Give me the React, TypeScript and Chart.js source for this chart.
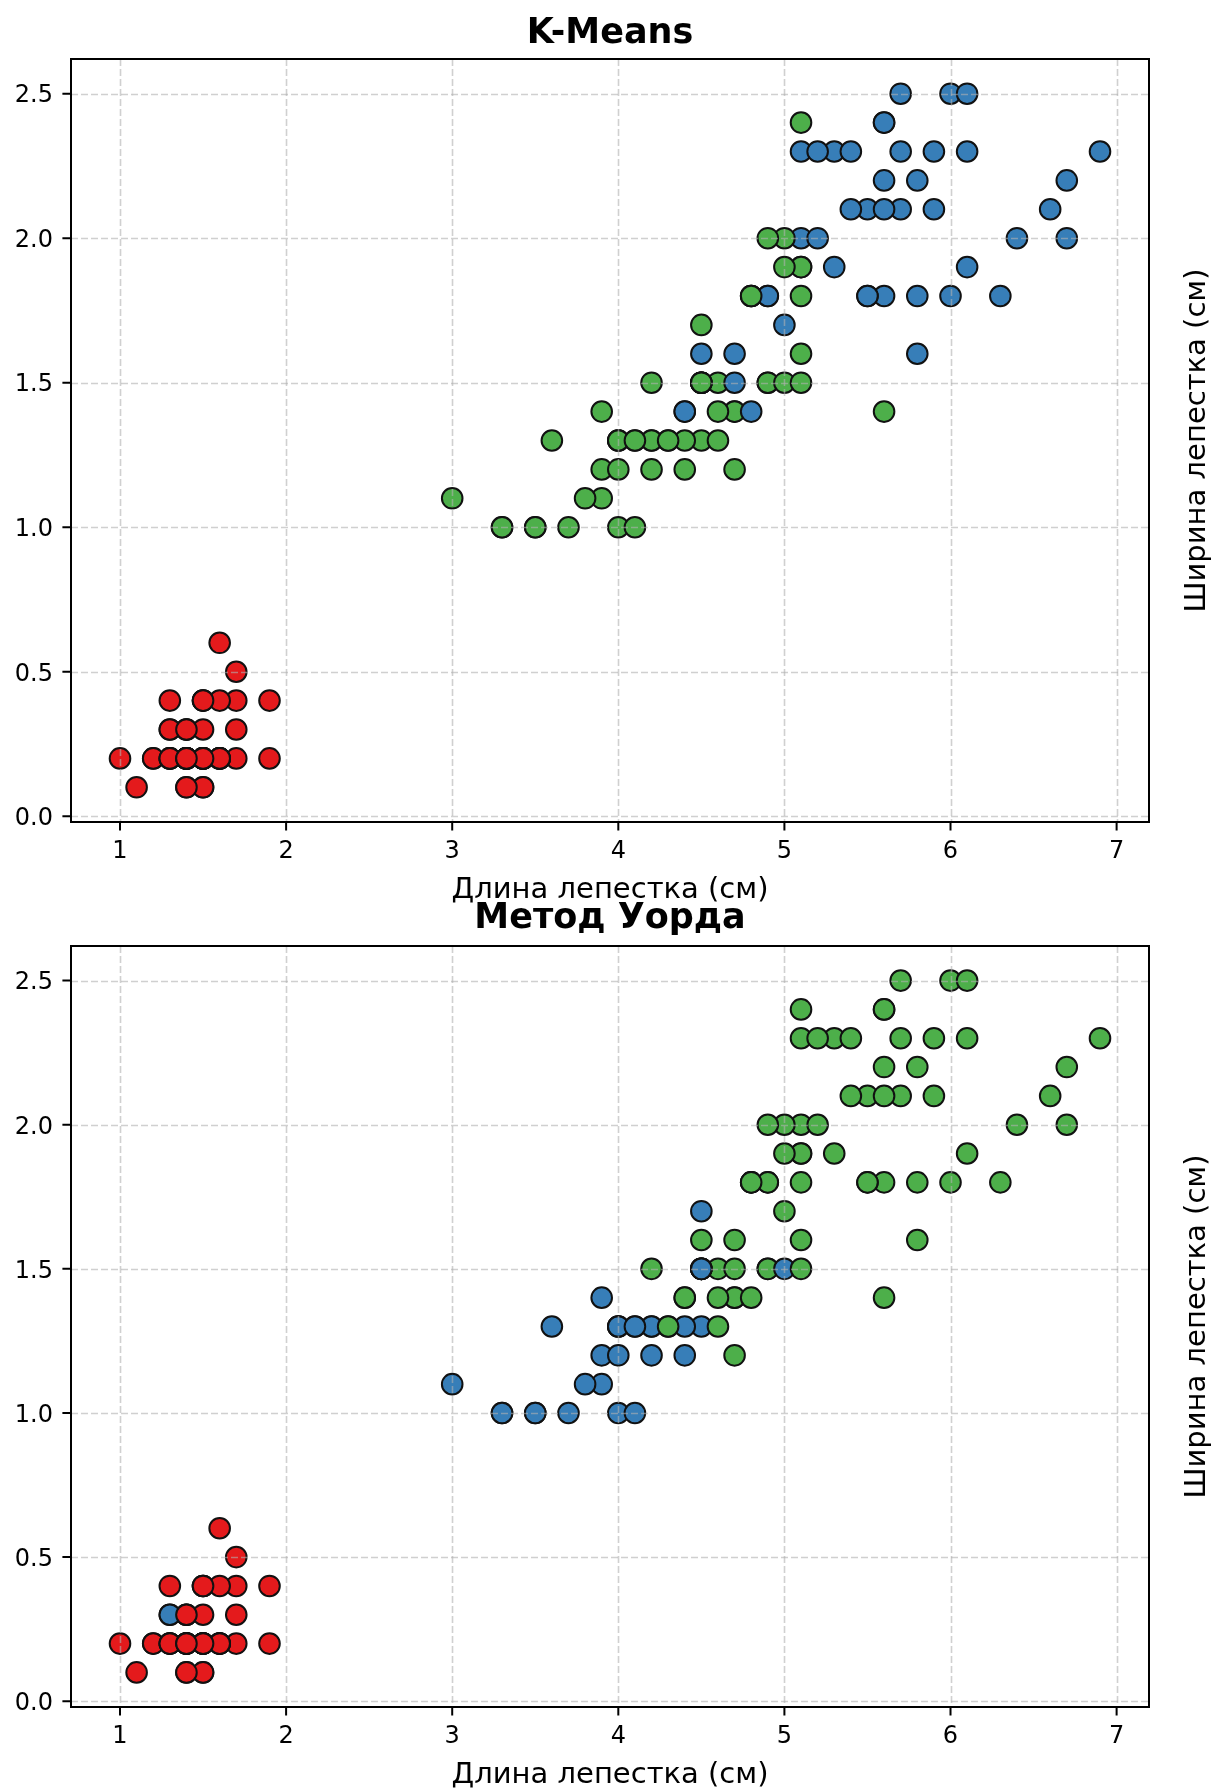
import React, { useEffect, useRef } from 'react';
import { Chart, registerables } from 'chart.js';

Chart.register(...registerables);

// Iris petal measurements (150 samples, original order)
const petalLength = [
  1.4, 1.4, 1.3, 1.5, 1.4, 1.7, 1.4, 1.5, 1.4, 1.5,
  1.5, 1.6, 1.4, 1.1, 1.2, 1.5, 1.3, 1.4, 1.7, 1.5,
  1.7, 1.5, 1.0, 1.7, 1.9, 1.6, 1.6, 1.5, 1.4, 1.6,
  1.6, 1.5, 1.5, 1.4, 1.5, 1.2, 1.3, 1.4, 1.3, 1.5,
  1.3, 1.3, 1.3, 1.6, 1.9, 1.4, 1.6, 1.4, 1.5, 1.4,
  4.7, 4.5, 4.9, 4.0, 4.6, 4.5, 4.7, 3.3, 4.6, 3.9,
  3.5, 4.2, 4.0, 4.7, 3.6, 4.4, 4.5, 4.1, 4.5, 3.9,
  4.8, 4.0, 4.9, 4.7, 4.3, 4.4, 4.8, 5.0, 4.5, 3.5,
  3.8, 3.7, 3.9, 5.1, 4.5, 4.5, 4.7, 4.4, 4.1, 4.0,
  4.4, 4.6, 4.0, 3.3, 4.2, 4.2, 4.2, 4.3, 3.0, 4.1,
  6.0, 5.1, 5.9, 5.6, 5.8, 6.6, 4.5, 6.3, 5.8, 6.1,
  5.1, 5.3, 5.5, 5.0, 5.1, 5.3, 5.5, 6.7, 6.9, 5.0,
  5.7, 4.9, 6.7, 4.9, 5.7, 6.0, 4.8, 4.9, 5.6, 5.8,
  6.1, 6.4, 5.6, 5.1, 5.6, 6.1, 5.6, 5.5, 4.8, 5.4,
  5.6, 5.1, 5.1, 5.9, 5.7, 5.2, 5.0, 5.2, 5.4, 5.1,
];

const petalWidth = [
  0.2, 0.2, 0.2, 0.2, 0.2, 0.4, 0.3, 0.2, 0.2, 0.1,
  0.2, 0.2, 0.1, 0.1, 0.2, 0.4, 0.4, 0.3, 0.3, 0.3,
  0.2, 0.4, 0.2, 0.5, 0.2, 0.2, 0.4, 0.2, 0.2, 0.2,
  0.2, 0.4, 0.1, 0.2, 0.2, 0.2, 0.2, 0.1, 0.2, 0.2,
  0.3, 0.3, 0.2, 0.6, 0.4, 0.3, 0.2, 0.2, 0.2, 0.2,
  1.4, 1.5, 1.5, 1.3, 1.5, 1.3, 1.6, 1.0, 1.3, 1.4,
  1.0, 1.5, 1.0, 1.4, 1.3, 1.4, 1.5, 1.0, 1.5, 1.1,
  1.8, 1.3, 1.5, 1.2, 1.3, 1.4, 1.4, 1.7, 1.5, 1.0,
  1.1, 1.0, 1.2, 1.6, 1.5, 1.6, 1.5, 1.3, 1.3, 1.3,
  1.2, 1.4, 1.2, 1.0, 1.3, 1.2, 1.3, 1.3, 1.1, 1.3,
  2.5, 1.9, 2.1, 1.8, 2.2, 2.1, 1.7, 1.8, 1.8, 2.5,
  2.0, 1.9, 2.1, 2.0, 2.4, 2.3, 1.8, 2.2, 2.3, 1.5,
  2.3, 2.0, 2.0, 1.8, 2.1, 1.8, 1.8, 1.8, 2.1, 1.6,
  1.9, 2.0, 2.2, 1.5, 1.4, 2.3, 2.4, 1.8, 1.8, 2.1,
  2.4, 2.3, 1.9, 2.3, 2.5, 2.3, 1.9, 2.0, 2.3, 1.8,
];

// 0 = red cluster, 1 = green cluster, 2 = blue cluster
const kmeansLabels = [
  0, 0, 0, 0, 0, 0, 0, 0, 0, 0,
  0, 0, 0, 0, 0, 0, 0, 0, 0, 0,
  0, 0, 0, 0, 0, 0, 0, 0, 0, 0,
  0, 0, 0, 0, 0, 0, 0, 0, 0, 0,
  0, 0, 0, 0, 0, 0, 0, 0, 0, 0,
  1, 1, 1, 1, 1, 1, 2, 1, 1, 1,
  1, 1, 1, 1, 1, 2, 1, 1, 1, 1,
  1, 1, 1, 1, 1, 2, 2, 2, 1, 1,
  1, 1, 1, 1, 1, 2, 2, 1, 1, 1,
  1, 1, 1, 1, 1, 1, 1, 1, 1, 1,
  2, 1, 2, 2, 2, 2, 1, 2, 2, 2,
  2, 2, 2, 1, 1, 2, 2, 2, 2, 1,
  2, 1, 2, 2, 2, 2, 1, 2, 2, 2,
  2, 2, 2, 1, 1, 2, 2, 2, 1, 2,
  2, 2, 1, 2, 2, 2, 1, 2, 2, 1,
];

const wardLabels = [
  0, 0, 0, 0, 0, 0, 0, 0, 0, 0,
  0, 0, 0, 0, 0, 0, 0, 0, 0, 0,
  0, 0, 0, 0, 0, 0, 0, 0, 0, 0,
  0, 0, 0, 0, 0, 0, 0, 0, 0, 0,
  0, 2, 0, 0, 0, 0, 0, 0, 0, 0,
  1, 2, 1, 2, 1, 2, 1, 2, 1, 2,
  2, 1, 2, 1, 2, 1, 2, 2, 2, 2,
  1, 2, 1, 1, 1, 1, 1, 1, 2, 2,
  2, 2, 2, 1, 2, 1, 1, 2, 2, 2,
  2, 1, 2, 2, 2, 2, 2, 1, 2, 2,
  1, 1, 1, 1, 1, 1, 2, 1, 1, 1,
  1, 1, 1, 1, 1, 1, 1, 1, 1, 2,
  1, 1, 1, 1, 1, 1, 1, 1, 1, 1,
  1, 1, 1, 1, 1, 1, 1, 1, 1, 1,
  1, 1, 1, 1, 1, 1, 1, 1, 1, 1,
];

const clusterColors = ['#e41a1c', '#4daf4a', '#377eb8'];
const xTicks = [1, 2, 3, 4, 5, 6, 7];
const yTicks = [0, 0.5, 1.0, 1.5, 2.0, 2.5];
const xRange = [0.705, 7.195];
const yRange = [-0.02, 2.62];
const xLabel = 'Длина лепестка (см)';
const yLabel = 'Ширина лепестка (см)';
const titles = ['K-Means', 'Метод Уорда'];

const W = 1219;
const FONT = '"DejaVu Sans", sans-serif';

const axesPlugin = {
  id: 'mplAxes',
  afterDatasetsDraw(chart: any, _args: any, opts: any) {
    const ctx: CanvasRenderingContext2D = chart.ctx;
    const { left, right, top, bottom } = chart.chartArea;
    const xs = chart.scales.x;
    const ys = chart.scales.y;
    ctx.save();
    // grid (drawn above points like matplotlib default)
    ctx.strokeStyle = 'rgba(176,176,176,0.6)';
    ctx.lineWidth = 1.6;
    ctx.setLineDash([7, 3]);
    xTicks.forEach((v) => {
      const px = Math.round(xs.getPixelForValue(v)) + 0.5;
      ctx.beginPath();
      ctx.moveTo(px, top);
      ctx.lineTo(px, bottom);
      ctx.stroke();
    });
    yTicks.forEach((v) => {
      const py = Math.round(ys.getPixelForValue(v)) + 0.5;
      ctx.beginPath();
      ctx.moveTo(left, py);
      ctx.lineTo(right, py);
      ctx.stroke();
    });
    ctx.setLineDash([]);
    // spines
    ctx.strokeStyle = '#000';
    ctx.lineWidth = 2;
    ctx.strokeRect(left, top, right - left, bottom - top);
    // ticks
    const tl = 8.6;
    ctx.beginPath();
    xTicks.forEach((v) => {
      const px = xs.getPixelForValue(v);
      ctx.moveTo(px, bottom);
      ctx.lineTo(px, bottom + tl);
    });
    yTicks.forEach((v) => {
      const py = ys.getPixelForValue(v);
      ctx.moveTo(left, py);
      ctx.lineTo(left - tl, py);
    });
    ctx.stroke();
    // tick labels
    ctx.fillStyle = '#000';
    ctx.font = `24px ${FONT}`;
    ctx.textAlign = 'center';
    ctx.textBaseline = 'alphabetic';
    xTicks.forEach((v) => {
      ctx.fillText(String(v), xs.getPixelForValue(v), bottom + 36);
    });
    ctx.textAlign = 'right';
    yTicks.forEach((v) => {
      ctx.fillText(v.toFixed(1), left - 18, ys.getPixelForValue(v) + 8.8);
    });
    // axis labels
    ctx.font = `29px ${FONT}`;
    ctx.textAlign = 'center';
    ctx.fillText(xLabel, (left + right) / 2, bottom + 76);
    ctx.save();
    ctx.translate(1205, (top + bottom) / 2);
    ctx.rotate(-Math.PI / 2);
    ctx.fillText(yLabel, 0, 0);
    ctx.restore();
    // title
    ctx.font = `bold 35px ${FONT}`;
    ctx.fillText(opts.text, (left + right) / 2, top - opts.titleGap);
    ctx.restore();
  },
};

type Area = { left: number; right: number; top: number; bottom: number };

function ClusterChart(props: { labels: number[]; title: string; titleGap: number; top: number; height: number; area: Area }) {
  const ref = useRef<HTMLCanvasElement>(null);
  const { labels, title, titleGap, top, height, area } = props;
  useEffect(() => {
    const canvas = ref.current;
    if (!canvas) return;
    const points = petalLength.map((x, i) => ({ x, y: petalWidth[i] }));
    const chart = new Chart(canvas, {
      type: 'scatter',
      data: {
        datasets: [
          {
            data: points,
            backgroundColor: labels.map((l) => clusterColors[l]),
            borderColor: '#111111',
            borderWidth: 2,
            pointRadius: 10.3,
            pointHoverRadius: 10.3,
          },
        ],
      },
      options: {
        animation: false,
        responsive: false,
        events: [],
        layout: {
          autoPadding: false,
          padding: {
            left: area.left,
            right: W - area.right,
            top: area.top,
            bottom: height - area.bottom,
          },
        },
        scales: {
          x: {
            type: 'linear',
            min: xRange[0],
            max: xRange[1],
            grid: { display: false },
            border: { display: false },
            ticks: { display: false },
            afterFit: (s: any) => {
              s.height = 0;
            },
          },
          y: {
            type: 'linear',
            min: yRange[0],
            max: yRange[1],
            grid: { display: false },
            border: { display: false },
            ticks: { display: false },
            afterFit: (s: any) => {
              s.width = 0;
            },
          },
        },
        plugins: {
          legend: { display: false },
          tooltip: { enabled: false },
          title: { display: false },
          mplAxes: { text: title, titleGap },
        } as any,
      },
      plugins: [axesPlugin],
    } as any);
    return () => chart.destroy();
  }, [labels, title, titleGap, height, area]);
  return (
    <canvas
      ref={ref}
      width={W}
      height={height}
      style={{ position: 'absolute', left: 0, top, width: W, height }}
    />
  );
}

const area1: Area = { left: 71, right: 1149, top: 59, bottom: 822 };
const area2: Area = { left: 71, right: 1149, top: 66, bottom: 827 };

export default function App() {
  return (
    <div style={{ position: 'absolute', left: 0, top: 0, width: W, height: 1790, background: '#ffffff' }}>
      <ClusterChart labels={kmeansLabels} title={titles[0]} titleGap={16} top={0} height={930} area={area1} />
      <ClusterChart labels={wardLabels} title={titles[1]} titleGap={18} top={880} height={910} area={area2} />
    </div>
  );
}
